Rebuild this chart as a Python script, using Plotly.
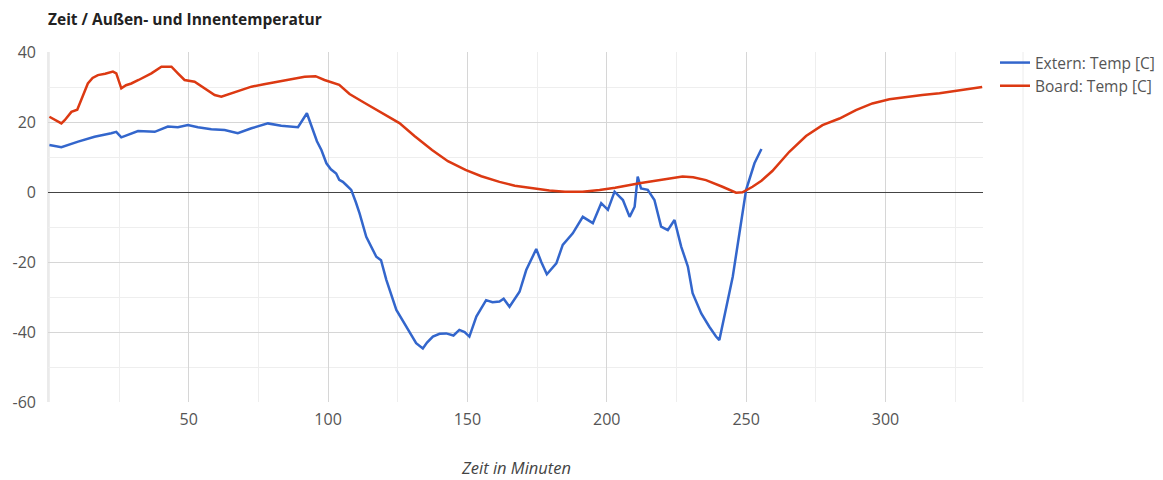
import plotly.graph_objects as go

# ---- data ----
board_min = [0, 2, 4.3, 5.5, 7.9, 10, 11.5, 13.8, 15.5, 17.4, 20, 22.8, 24, 25.8, 27.5, 29.4,
             32, 34.2, 36.6, 40.2, 43.8, 46.1, 48.5, 52.1, 55.7, 59.3, 61.7, 65.3, 68.5,
             72.5, 77, 82, 87, 91.6, 95.5, 98.7, 104, 107.7, 113, 119.5, 125.6, 131, 137.3,
             143, 149.3, 155, 161.5, 167, 173.3, 179.4, 185, 191.3, 197.4, 203, 211.7, 220,
             227.2, 231, 235.6, 241.5, 246.4, 248.7, 252.3, 255.5, 259.4, 265.5, 271.5,
             277.4, 283.5, 289.4, 295.3, 301.4, 307.4, 313.2, 319.4, 325.3, 330, 334.7]
board_temp = [21.5, 20.5, 19.6, 20.5, 22.9, 23.5, 26.3, 31, 32.6, 33.4, 33.8, 34.4, 33.9, 29.6,
              30.5, 31, 32, 32.9, 33.9, 35.8, 35.8, 33.9, 32, 31.5, 29.6, 27.7, 27.2, 28.2,
              29.2, 30.1, 30.8, 31.5, 32.2, 32.9, 33.1, 32, 30.6, 28, 25.5, 22.5, 19.7, 16,
              12, 8.8, 6.3, 4.5, 2.9, 1.8, 1.1, 0.4, 0.1, 0.1, 0.6, 1.2, 2.5, 3.6, 4.4, 4.2,
              3.4, 1.5, -0.2, -0.1, 1.5, 3.2, 6, 11.5, 16, 19.1, 21, 23.4, 25.3, 26.5, 27.2,
              27.7, 28.2, 28.9, 29.5, 30]

extern_min = [0, 4.3, 10.3, 16.2, 22.2, 24, 25.8, 31.8, 37.8, 42.5, 46.1, 49.7, 53.3, 58.1,
              62.9, 67.6, 72.5, 78.4, 83.2, 89.2, 92.4, 94, 96, 97.6, 99.4, 101, 102.9, 104,
              105.3, 106.5, 108.3, 110, 111.3, 113.7, 115.5, 117.3, 119, 120.9, 124.5, 128,
              131.6, 134, 135.5, 137.6, 140, 142.4, 145, 147.1, 149, 150.7, 153.2, 156.7,
              159, 161.5, 163, 165.1, 168.7, 171.1, 174.7, 176.5, 178.5, 181.9, 184.2, 187.8,
              191.4, 195, 198, 200.4, 202.8, 205.8, 208.2, 210, 211.1, 212.3, 214.7, 217.1,
              219.5, 221.9, 224.3, 226.7, 229.1, 230.8, 233.9, 236.8, 239.2, 240.4, 242.8,
              245.2, 247.6, 250, 253, 255.5]
extern_temp = [13.4, 12.8, 14.4, 15.8, 16.8, 17.2, 15.6, 17.4, 17.2, 18.7, 18.5, 19.1, 18.5,
               17.9, 17.7, 16.8, 18.2, 19.6, 18.9, 18.5, 22.5, 18.7, 14.5, 12, 8.2, 6.5, 5.3,
               3.5, 2.9, 2, 0.6, -3, -6.1, -12.8, -15.5, -18.5, -19.5, -25.1, -33.7, -38.5,
               -43.2, -44.7, -43, -41.3, -40.5, -40.4, -41, -39.4, -40, -41.3, -35.6, -30.9,
               -31.5, -31.3, -30.5, -32.8, -28.5, -22.3, -16.3, -20, -23.5, -20.4, -15.1,
               -11.8, -7.1, -8.9, -3.2, -5.1, 0.1, -2.3, -7.1, -4.2, 4.4, 1.0, 0.6, -2.3,
               -9.9, -10.9, -8, -15.6, -21.3, -28.9, -34.7, -38.5, -41.3, -42.3, -33.7,
               -24.2, -11.8, 0.6, 8.2, 12.3]

x_ticks = [50, 100, 150, 200, 250, 300]
y_ticks = [-60, -40, -20, 0, 20, 40]

title_text = "Zeit / Außen- und Innentemperatur"
x_title = "Zeit in Minuten"
names = ["Extern: Temp [C]", "Board: Temp [C]"]
colors = ["#3366cc", "#dc3912"]

FONT = "Open Sans"

# The page body has an 8px margin, so the figure sits at (8, 8) in the window.
OFF = 8
W, H = 1163 - OFF, 480 - OFF
PL, PR, PT, PB = 48, 983, 52, 402          # plot area in window pixels
PW, PH = PR - PL, PB - PT

fig = go.Figure()
fig.add_trace(go.Scatter(x=extern_min, y=extern_temp, mode="lines", name=names[0],
                         line=dict(color=colors[0], width=2.5)))
fig.add_trace(go.Scatter(x=board_min, y=board_temp, mode="lines", name=names[1],
                         line=dict(color=colors[1], width=2.5)))

fig.update_layout(
    width=W, height=H,
    margin=dict(l=PL - OFF, r=W - (PR - OFF), t=PT - OFF, b=H - (PB - OFF), autoexpand=False),
    paper_bgcolor="white", plot_bgcolor="white",
    font=dict(family=FONT, color="#444", size=15),
    title=dict(text="<b>" + title_text + "</b>", x=(PL - OFF) / W, xanchor="left",
               y=1 - (19.5 - OFF) / H, yanchor="middle", yref="container",
               font=dict(family=FONT, size=15.5, color="#222")),
    legend=dict(x=(995 - PL) / PW, xanchor="left", y=(PB - 46) / PH, yanchor="top",
                font=dict(family=FONT, size=15.5, color="#555"),
                bgcolor="rgba(0,0,0,0)", tracegroupgap=0, itemwidth=30),
    showlegend=True,
)

fig.update_xaxes(
    range=[-0.5, 335], tickvals=x_ticks, ticktext=[str(v) for v in x_ticks],
    showgrid=True, gridcolor="#d6d6d6", gridwidth=1,
    minor=dict(dtick=25, tick0=0, showgrid=True, gridcolor="#eeeeee", gridwidth=1),
    zeroline=False, showline=False, ticks="", ticklabelstandoff=6,
    tickfont=dict(family=FONT, size=16, color="#555"),
)
fig.update_yaxes(
    range=[-60, 40], tickvals=y_ticks, ticktext=[str(v) for v in y_ticks],
    showgrid=True, gridcolor="#d6d6d6", gridwidth=1,
    minor=dict(dtick=10, tick0=0, showgrid=True, gridcolor="#eeeeee", gridwidth=1),
    zeroline=True, zerolinecolor="#444", zerolinewidth=1,
    showline=False, ticks="", ticklabelstandoff=11,
    tickfont=dict(family=FONT, size=16, color="#555"),
)

# left border line and stray vertical gridline to the right of the plot
fig.add_shape(type="line", xref="paper", yref="paper", x0=0, x1=0, y0=0, y1=1,
              line=dict(color="#d6d6d6", width=1), layer="below")
fig.add_shape(type="line", xref="paper", yref="paper", x0=(1023 - PL) / PW,
              x1=(1023 - PL) / PW, y0=0, y1=1, line=dict(color="#ececec", width=1),
              layer="below")

fig.add_annotation(text="<i>" + x_title + "</i>", xref="paper", yref="paper",
                   x=(516 - PL) / PW, y=(PB - 467) / PH, xanchor="center", yanchor="middle",
                   showarrow=False, font=dict(family=FONT, size=16.5, color="#444"))

fig.write_html("out.html")
